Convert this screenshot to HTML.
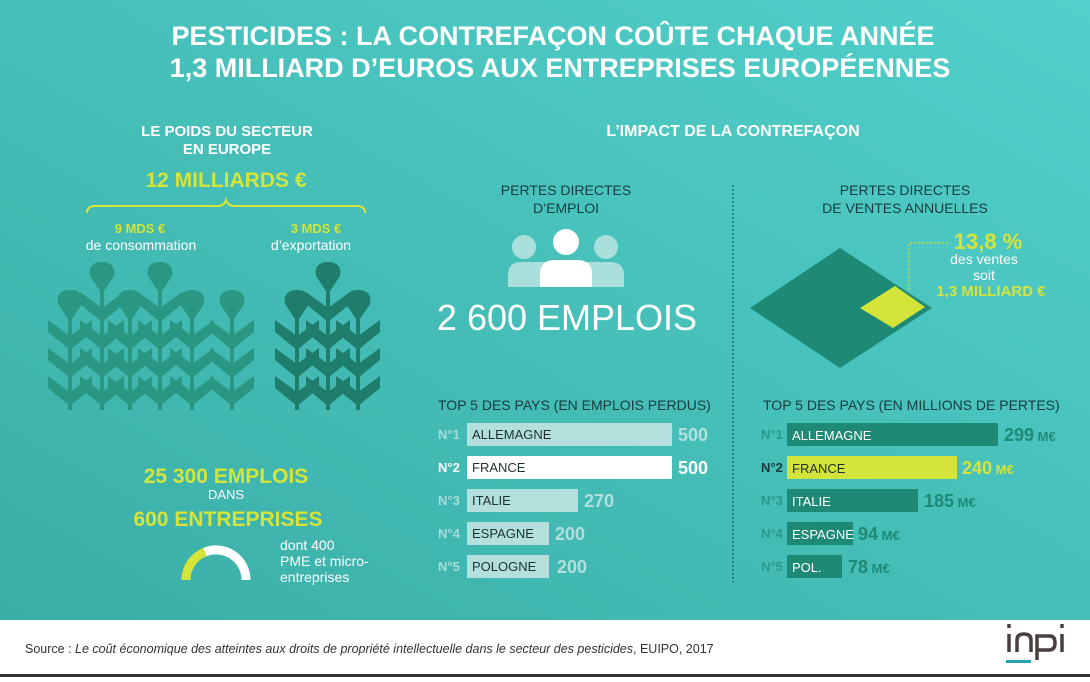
<!DOCTYPE html>
<html><head><meta charset="utf-8"><style>
body{margin:0;width:1090px;height:677px;overflow:hidden;font-family:"Liberation Sans",sans-serif}
</style></head><body>
<svg width="1090" height="677" xmlns="http://www.w3.org/2000/svg" font-family="Liberation Sans, sans-serif">
<defs>
<linearGradient id="bg" x1="0" y1="1" x2="1" y2="0">
<stop offset="0" stop-color="#3aaea6"/><stop offset="1" stop-color="#52d0cb"/></linearGradient>
<g id="plant">
<rect x="-2" y="0" width="4" height="136"/>
<path d="M-12,2 C-14,-8 -8,-12 0,-12 C8,-12 14,-8 12,2 L0,20 Z"/>
<polygon points="-22,18 0,34 22,18 22,30 0,48 -22,30"/>
<polygon points="-22,46 0,62 22,46 22,58 0,76 -22,58"/>
<polygon points="-22,74 0,90 22,74 22,86 0,104 -22,86"/>
<polygon points="-22,102 0,118 22,102 22,114 0,132 -22,114"/>
</g>
<g id="plants">
<rect x="-2" y="0" width="4" height="108"/>
<path d="M-12,2 C-14,-8 -8,-12 0,-12 C8,-12 14,-8 12,2 L0,20 Z"/>
<polygon points="-22,18 0,34 22,18 22,30 0,48 -22,30"/>
<polygon points="-22,46 0,62 22,46 22,58 0,76 -22,58"/>
<polygon points="-22,74 0,90 22,74 22,86 0,104 -22,86"/>
</g>
</defs>
<rect width="1090" height="620" fill="url(#bg)"/>
<rect y="620" width="1090" height="54" fill="#fff"/>
<rect y="674" width="1090" height="3" fill="#333"/>

<g fill="#fff" font-weight="bold" font-size="27" text-anchor="middle">
<text x="553" y="45">PESTICIDES : LA CONTREFAÇON COÛTE CHAQUE ANNÉE</text>
<text x="560" y="77">1,3 MILLIARD D’EUROS AUX ENTREPRISES EUROPÉENNES</text>
</g>

<g text-anchor="middle">
<text x="227" y="136" fill="#fff" font-weight="bold" font-size="15">LE POIDS DU SECTEUR</text>
<text x="227" y="154" fill="#fff" font-weight="bold" font-size="15">EN EUROPE</text>
<text x="226" y="187" fill="#d4e43a" font-weight="bold" font-size="21">12 MILLIARDS €</text>
<path d="M87,213 Q87,206 95,206 L218,206 Q224,206 226,200 Q228,206 234,206 L357,206 Q365,206 365,213" fill="none" stroke="#d4e43a" stroke-width="2"/>
<text x="140" y="233" fill="#d4e43a" font-weight="bold" font-size="13">9 MDS €</text>
<text x="141" y="250" fill="#fff" font-size="14">de consommation</text>
<text x="316" y="233" fill="#d4e43a" font-weight="bold" font-size="13">3 MDS €</text>
<text x="311" y="250" fill="#fff" font-size="14">d’exportation</text>
</g>

<g fill="#2a9783">
<use href="#plants" x="70" y="302"/><use href="#plants" x="130" y="302"/><use href="#plants" x="192" y="302"/><use href="#plants" x="232" y="302"/>
<use href="#plant" x="102" y="274"/><use href="#plant" x="160" y="274"/>
</g>
<g fill="#1f7d6c">
<use href="#plants" x="297" y="302"/><use href="#plants" x="358" y="302"/><use href="#plant" x="328" y="274"/>
</g>

<g text-anchor="middle" font-weight="bold">
<text x="226" y="483" fill="#d4e43a" font-size="21">25 300 EMPLOIS</text>
<text x="226" y="499" fill="#fff" font-size="13" font-weight="normal">DANS</text>
<text x="228" y="526" fill="#d4e43a" font-size="21">600 ENTREPRISES</text>
</g>
<path d="M186,580 A30,30 0 0 1 205,552" fill="none" stroke="#d4e43a" stroke-width="9"/>
<path d="M205,552 A30,30 0 0 1 246,580" fill="none" stroke="#fff" stroke-width="9"/>
<g fill="#fff" font-size="14"><text x="280" y="550">dont 400</text><text x="280" y="566">PME et micro-</text><text x="280" y="582">entreprises</text></g>

<text x="733" y="136" fill="#fff" font-weight="bold" font-size="16" text-anchor="middle">L’IMPACT DE LA CONTREFAÇON</text>
<line x1="733" y1="185" x2="733" y2="582" stroke="#1e4e52" stroke-width="1.5" stroke-dasharray="1.5,2.5"/>

<g fill="#173c40" font-size="14" text-anchor="middle">
<text x="566" y="195">PERTES DIRECTES</text><text x="566" y="213">D’EMPLOI</text>
<text x="905" y="195">PERTES DIRECTES</text><text x="905" y="213">DE VENTES ANNUELLES</text>
</g>
<g fill="#a9e0dc"><circle cx="524" cy="247" r="12"/><circle cx="606" cy="247" r="12"/>
<path d="M508,287 L508,275 Q508,262 522,262 L610,262 Q624,262 624,275 L624,287Z"/></g>
<circle cx="566" cy="242" r="13" fill="#fff"/>
<path d="M540,287 L540,274 Q540,260 555,260 L577,260 Q592,260 592,274 L592,287Z" fill="#fff"/>
<text x="567" y="330" fill="#fff" font-size="36" text-anchor="middle">2 600 EMPLOIS</text>

<polygon points="750,308 840,248 932,308 840,368" fill="#1e8a76"/>
<polygon points="860,308 895,286 925,307 893,328" fill="#d4e43a"/>
<polyline points="909,290 909,243 950,243" fill="none" stroke="#d4e43a" stroke-width="1.5" stroke-dasharray="1.5,2.5"/>
<g text-anchor="middle">
<text x="988" y="249" fill="#d4e43a" font-size="22" font-weight="bold">13,8 %</text>
<text x="984" y="264" fill="#fff" font-size="14">des ventes</text>
<text x="984" y="280" fill="#fff" font-size="14">soit</text>
<text x="991" y="296" fill="#d4e43a" font-size="15" font-weight="bold">1,3 MILLIARD €</text>
</g>

<g font-size="14" fill="#173c40">
<text x="438" y="410">TOP 5 DES PAYS (EN EMPLOIS PERDUS)</text>
<text x="763" y="410">TOP 5 DES PAYS (EN MILLIONS DE PERTES)</text>
</g>
<g font-size="13">
<rect x="467" y="423" width="205" height="23" fill="#b3e0dd"/>
<rect x="467" y="456" width="205" height="23" fill="#fff"/>
<rect x="467" y="489" width="111" height="23" fill="#b3e0dd"/>
<rect x="467" y="522" width="82" height="23" fill="#b3e0dd"/>
<rect x="467" y="555" width="82" height="23" fill="#b3e0dd"/>
<g fill="#1f2f33"><text x="472" y="439">ALLEMAGNE</text><text x="472" y="472">FRANCE</text><text x="472" y="505">ITALIE</text><text x="472" y="538">ESPAGNE</text><text x="472" y="571">POLOGNE</text></g>
<g fill="#a8dcd8" font-weight="bold"><text x="438" y="439">N°1</text><text x="438" y="505">N°3</text><text x="438" y="538">N°4</text><text x="438" y="571">N°5</text></g>
<text x="438" y="472" fill="#fff" font-weight="bold">N°2</text>
<g fill="#b3e0dd" font-size="18" font-weight="bold"><text x="678" y="441">500</text><text x="584" y="507">270</text><text x="555" y="540">200</text><text x="557" y="573">200</text></g>
<text x="678" y="474" fill="#fff" font-size="18" font-weight="bold">500</text>

<rect x="787" y="423" width="211" height="23" fill="#1e8a76"/>
<rect x="787" y="456" width="170" height="23" fill="#d4e43a"/>
<rect x="787" y="489" width="131" height="23" fill="#1e8a76"/>
<rect x="787" y="522" width="66" height="23" fill="#1e8a76"/>
<rect x="787" y="555" width="55" height="23" fill="#1e8a76"/>
<g fill="#fff"><text x="792" y="440">ALLEMAGNE</text><text x="792" y="506">ITALIE</text><text x="792" y="539">ESPAGNE</text><text x="792" y="572">POL.</text></g>
<text x="792" y="473" fill="#1f2f33">FRANCE</text>
<g fill="#2a9a88" font-weight="bold"><text x="761" y="439">N°1</text><text x="761" y="505">N°3</text><text x="761" y="538">N°4</text><text x="761" y="571">N°5</text></g>
<text x="761" y="472" fill="#173c40" font-weight="bold">N°2</text>
<g fill="#1e8a76" font-weight="bold" font-size="18"><text x="1004" y="441">299<tspan font-size="13"> M€</tspan></text><text x="924" y="507">185<tspan font-size="13"> M€</tspan></text><text x="858" y="540">94<tspan font-size="13"> M€</tspan></text><text x="848" y="573">78<tspan font-size="13"> M€</tspan></text></g>
<text x="962" y="474" fill="#d4e43a" font-weight="bold" font-size="18">240<tspan font-size="13"> M€</tspan></text>
</g>

<text x="25" y="653" font-size="12.5" fill="#333">Source : <tspan font-style="italic">Le coût économique des atteintes aux droits de propriété intellectuelle dans le secteur des pesticides</tspan>, EUIPO, 2017</text>
<g fill="none" stroke="#4a3f3f" stroke-width="3.5">
<line x1="1009" y1="634" x2="1009" y2="652"/><line x1="1009" y1="624" x2="1009" y2="628"/>
<path d="M1017,652 L1017,640 Q1017,634 1024,634 Q1031,634 1031,640 L1031,652"/>
<path d="M1037,660 L1037,636 L1050,636 Q1055,636 1055,643 Q1055,650 1049,650 L1037,650"/>
<line x1="1062" y1="634" x2="1062" y2="652"/><line x1="1062" y1="624" x2="1062" y2="628"/>
</g>
<rect x="1006" y="660" width="25" height="3" fill="#2aa3b0"/>
</svg>
</body></html>
